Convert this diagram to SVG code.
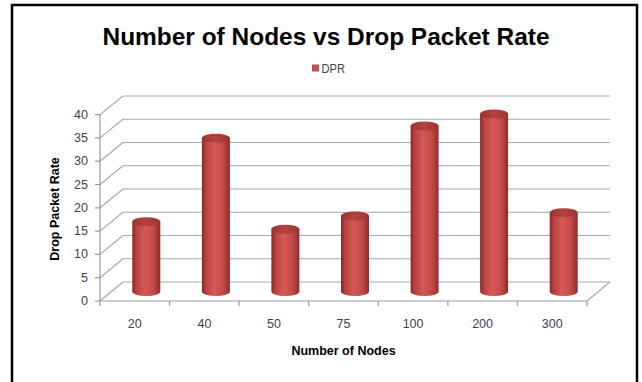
<svg xmlns="http://www.w3.org/2000/svg" width="642" height="382" viewBox="0 0 642 382">
<defs>
<linearGradient id="body" x1="0" y1="0" x2="1" y2="0">
<stop offset="0" stop-color="#8a2725"/>
<stop offset="0.15" stop-color="#b9433f"/>
<stop offset="0.45" stop-color="#d65a56"/>
<stop offset="0.75" stop-color="#c24b47"/>
<stop offset="1" stop-color="#8f2d2a"/>
</linearGradient>
<linearGradient id="top" x1="0" y1="0" x2="1" y2="0">
<stop offset="0" stop-color="#9a3431"/>
<stop offset="0.5" stop-color="#b5423e"/>
<stop offset="1" stop-color="#9a3431"/>
</linearGradient>
<style>
.grid{stroke:#a8a8a8;stroke-width:1.2;fill:none}
.ax{stroke:#9a9a9a;stroke-width:1.2;fill:none}
.lbl{font-family:"Liberation Sans",Arial,sans-serif;font-size:12.5px;fill:#404050}
.ttl{font-family:"Liberation Sans",Arial,sans-serif;font-weight:bold;fill:#000}
</style>
</defs>
<rect x="0" y="0" width="642" height="382" fill="#fff"/>
<rect x="12" y="5" width="625" height="400" fill="none" stroke="#000" stroke-width="2.5"/>
<text class="ttl" x="326" y="45" font-size="24" text-anchor="middle" textLength="447" lengthAdjust="spacingAndGlyphs">Number of Nodes vs Drop Packet Rate</text>
<g id="legend">
<rect x="312" y="64.5" width="7" height="7" fill="#c0504d"/>
<text class="lbl" x="321.5" y="72.5" font-size="11" textLength="23.5" lengthAdjust="spacingAndGlyphs">DPR</text>
</g>
<g id="axes">
<g class="grid">
<path d="M123 282H610M123 258.75H610M123 235.5H610M123 212.25H610M123 189H610M123 165.75H610M123 142.5H610M123 119.25H610M123 96H610"/>
<path d="M100 301L123 282M100 277.7L123 258.75M100 254.4L123 235.5M100 231.1L123 212.25M100 207.8L123 189M100 184.5L123 165.75M100 161.2L123 142.5M100 137.9L123 119.25M100 114.6L123 96"/>
<path d="M587 301L610 282"/>
</g>
<g class="ax">
<path d="M100 114.6V301H587"/>
<path d="M95 301H100M95 277.7H100M95 254.4H100M95 231.1H100M95 207.8H100M95 184.5H100M95 161.2H100M95 137.9H100M95 114.6H100"/>
<path d="M100 301V306M169.6 301V306M239.1 301V306M308.7 301V306M378.3 301V306M447.9 301V306M517.4 301V306M587 301V306"/>
</g>
<g class="lbl" text-anchor="end">
<text x="88" y="305">0</text>
<text x="88" y="281.7">5</text>
<text x="88" y="258.4">10</text>
<text x="88" y="235.1">15</text>
<text x="88" y="211.8">20</text>
<text x="88" y="188.5">25</text>
<text x="88" y="165.2">30</text>
<text x="88" y="141.9">35</text>
<text x="88" y="118.6">40</text>
</g>
<g class="lbl" text-anchor="middle">
<text x="134.8" y="328">20</text>
<text x="204.4" y="328">40</text>
<text x="273.9" y="328">50</text>
<text x="343.5" y="328">75</text>
<text x="413.1" y="328">100</text>
<text x="482.6" y="328">200</text>
<text x="552.2" y="328">300</text>
</g>
<text class="ttl" x="343.5" y="355" font-size="12.5" text-anchor="middle">Number of Nodes</text>
<text class="ttl" x="0" y="0" font-size="12.5" text-anchor="middle" transform="translate(58.5,209) rotate(-90)">Drop Packet Rate</text>
</g>
<g id="bar-20">
<path d="M132.3 221.7V291.5A14 4.5 0 0 0 160.3 291.5V221.7Z" fill="url(#body)"/>
<ellipse cx="146.3" cy="221.7" rx="14" ry="4.5" fill="url(#top)"/>
</g>
<g id="bar-40">
<path d="M201.9 138.3V291.5A14 4.5 0 0 0 229.9 291.5V138.3Z" fill="url(#body)"/>
<ellipse cx="215.9" cy="138.3" rx="14" ry="4.5" fill="url(#top)"/>
</g>
<g id="bar-50">
<path d="M271.4 229.3V291.5A14 4.5 0 0 0 299.4 291.5V229.3Z" fill="url(#body)"/>
<ellipse cx="285.4" cy="229.3" rx="14" ry="4.5" fill="url(#top)"/>
</g>
<g id="bar-75">
<path d="M341 216V291.5A14 4.5 0 0 0 369 291.5V216Z" fill="url(#body)"/>
<ellipse cx="355" cy="216" rx="14" ry="4.5" fill="url(#top)"/>
</g>
<g id="bar-100">
<path d="M410.6 126V291.5A14 4.5 0 0 0 438.6 291.5V126Z" fill="url(#body)"/>
<ellipse cx="424.6" cy="126" rx="14" ry="4.5" fill="url(#top)"/>
</g>
<g id="bar-200">
<path d="M480.1 114V291.5A14 4.5 0 0 0 508.1 291.5V114Z" fill="url(#body)"/>
<ellipse cx="494.1" cy="114" rx="14" ry="4.5" fill="url(#top)"/>
</g>
<g id="bar-300">
<path d="M549.7 212.7V291.5A14 4.5 0 0 0 577.7 291.5V212.7Z" fill="url(#body)"/>
<ellipse cx="563.7" cy="212.7" rx="14" ry="4.5" fill="url(#top)"/>
</g>
</svg>
